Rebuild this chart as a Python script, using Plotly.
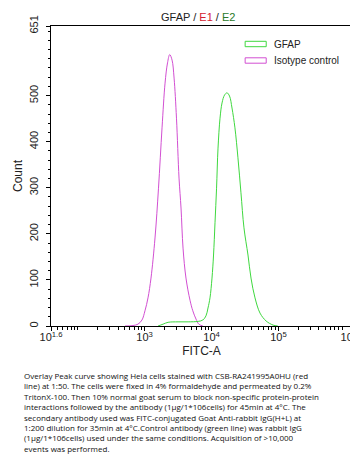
import plotly.graph_objects as go

# log10(FITC-A) positions and counts
isotype_log = [2.706, 2.826, 2.90, 2.96, 3.005, 3.05, 3.095, 3.155, 3.207, 3.26, 3.305, 3.342, 3.375,
               3.41, 3.44, 3.476, 3.514, 3.544, 3.574, 3.618, 3.678, 3.72, 3.768, 3.81, 3.87]
isotype_count = [0, 1, 4, 13, 33, 61, 104, 191, 299, 430, 527, 571, 589,
                 577, 538, 451, 321, 256, 169, 104, 56, 33, 15, 4, 0]

gfap_log = [3.2, 3.275, 3.35, 3.50, 3.65, 3.80, 3.87, 3.917, 3.947, 3.977, 4.007, 4.03, 4.052, 4.075,
            4.097, 4.127, 4.157, 4.194, 4.231, 4.269, 4.306, 4.35, 4.395, 4.44, 4.485, 4.545, 4.59,
            4.65, 4.725, 4.815, 4.92, 4.99]
gfap_count = [0, 4, 8, 9, 9, 10, 13, 22, 39, 61, 104, 154, 224, 299,
              386, 451, 484, 501, 506, 499, 473, 430, 365, 289, 213, 154, 104,
              61, 28, 11, 2, 0]

x_tick_exp = ["1.6", "3", "4", "5", "6.1"]
y_tick_vals = [0, 100, 200, 300, 400, 500, 651]

caption = ("Overlay Peak curve showing Hela cells stained with CSB-RA241995A0HU (red<br>"
           "line) at 1:50. The cells were fixed in 4% formaldehyde and permeated by 0.2%<br>"
           "TritonX-100. Then 10% normal goat serum to block non-specific protein-protein<br>"
           "interactions followed by the antibody (1µg/1*106cells) for 45min at 4°C. The<br>"
           "secondary antibody used was FITC-conjugated Goat Anti-rabbit IgG(H+L) at<br>"
           "1:200 dilution for 35min at 4°C.Control antibody (green line) was rabbit IgG<br>"
           "(1µg/1*106cells) used under the same conditions. Acquisition of >10,000<br>"
           "events was performed.")

GREEN = "#3fd83f"
MAGENTA = "#d24fd2"
FONT = "Liberation Sans, Arial"

fig = go.Figure()
fig.add_trace(go.Scatter(x=[10 ** v for v in isotype_log], y=isotype_count, mode="lines",
                         line=dict(color=MAGENTA, width=1, shape="spline"), showlegend=False))
fig.add_trace(go.Scatter(x=[10 ** v for v in gfap_log], y=gfap_count, mode="lines",
                         line=dict(color=GREEN, width=1, shape="spline"), showlegend=False))

minor_vals = [m * 10 ** e for e in range(1, 7) for m in range(2, 10)]
fig.update_xaxes(type="log", range=[1.6, 6.1], automargin=False,
                 tickvals=[10 ** float(e) for e in x_tick_exp],
                 ticktext=["10<sup>" + e + "</sup>" for e in x_tick_exp],
                 ticks="outside", ticklen=4, tickcolor="black", ticklabelstandoff=-3,
                 minor=dict(tickvals=minor_vals + [100], ticks="outside", ticklen=2.5, tickcolor="black"),
                 showline=True, linecolor="black", linewidth=1, mirror=True,
                 showgrid=False, zeroline=False,
                 tickfont=dict(family=FONT, size=11, color="#222"),
                 title=dict(text="FITC-A", font=dict(family=FONT, size=12, color="#222"),
                            standoff=4))
fig.update_yaxes(range=[0, 651], tickvals=y_tick_vals, ticktext=[str(v) for v in y_tick_vals],
                 automargin=False,
                 tickangle=-90, ticks="outside", ticklen=4, tickcolor="black", ticklabelstandoff=4,
                 minor=dict(dtick=20, ticks="outside", ticklen=2.5, tickcolor="black"),
                 showline=True, linecolor="black", linewidth=1, mirror=True,
                 showgrid=False, zeroline=False,
                 tickfont=dict(family=FONT, size=11, color="#222"),
                 title=dict(text="Count", font=dict(family=FONT, size=12, color="#222"),
                            standoff=2))

# title
fig.add_annotation(xref="paper", yref="paper", x=0.49, y=1.0, yshift=1, showarrow=False,
                   text="GFAP / <span style='color:#d42030'>E1</span> / <span style='color:#2a7a2a'>E2</span>",
                   font=dict(family=FONT, size=11, color="#222"), yanchor="bottom")

# legend drawn manually
leg = [("GFAP", GREEN, 0.94), ("Isotype control", MAGENTA, 0.885)]
for name, col, yy in leg:
    fig.add_shape(type="rect", xref="paper", yref="paper", x0=0.645, x1=0.715, y0=yy - 0.009, y1=yy + 0.009,
                  line=dict(color=col, width=1), fillcolor="white")
    fig.add_annotation(xref="paper", yref="paper", x=0.735, y=yy, xanchor="left", yanchor="middle",
                       showarrow=False, text=name,
                       font=dict(family=FONT, size=10, color="#222"))

fig.add_annotation(xref="paper", yref="paper", x=-0.096, y=-0.14, xanchor="left", yanchor="top",
                   showarrow=False, align="left", text=caption,
                   font=dict(family="Open Sans", size=8, color="#111"))

fig.update_layout(width=358, height=461, margin=dict(l=43, r=14, t=18, b=143),
                  paper_bgcolor="white", plot_bgcolor="white")
fig.write_html("out.html")
